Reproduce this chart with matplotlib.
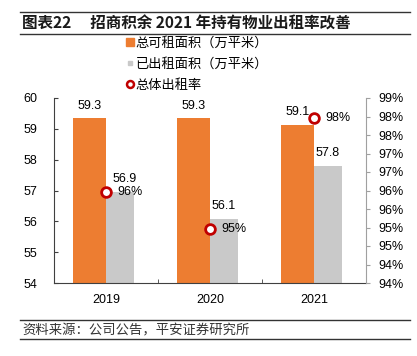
import matplotlib
matplotlib.use("Agg")
import matplotlib.pyplot as plt
from matplotlib.lines import Line2D
import numpy as np

plt.rcParams['font.family'] = ['Liberation Sans', 'Noto Sans CJK SC', 'DejaVu Sans']

# ---- data ----
years = ["2019", "2020", "2021"]
total_area = [59.34, 59.34, 59.14]      # 总可租面积（万平米）
rented_area = [56.94, 56.07, 57.80]     # 已出租面积（万平米）
occupancy = [96.47, 95.46, 98.47]       # 总体出租率 (%)
left_ticks = [54, 55, 56, 57, 58, 59, 60]
right_ticks = [94, 94.5, 95, 95.5, 96, 96.5, 97, 97.5, 98, 98.5, 99]
right_tick_labels = ["94%", "94%", "95%", "95%", "96%", "96%", "97%", "97%", "98%", "98%", "99%"]
title = "图表22\u3000 招商积余 2021 年持有物业出租率改善"
source = "资料来源：公司公告，平安证券研究所"
legend_labels = ["总可租面积（万平米）", "已出租面积（万平米）", "总体出租率"]

ORANGE = "#ED7D31"
GRAY = "#C9C9C9"
RED = "#C00000"
W, H = 417, 356

fig = plt.figure(figsize=(W / 100, H / 100), dpi=100)

def fx(px):
    return px / W

def fy(py):
    return 1 - py / H

ax = fig.add_axes([fx(54), fy(283), fx(366) - fx(54), fy(98) - fy(283)])
ax2 = ax.twinx()

x = np.arange(len(years))
w1, w2 = 0.315, 0.27
b1 = ax.bar(x - w1 / 2, total_area, width=w1, color=ORANGE, zorder=2)
b2 = ax.bar(x + w2 / 2, rented_area, width=w2, color=GRAY, zorder=2)

ax.set_ylim(54, 60)
ax.set_xlim(-0.5, 2.5)
ax.set_yticks(left_ticks)
ax.set_xticks(x)
ax.set_xticklabels(years)
ax.set_xticks([0.5, 1.5], minor=True)
ax.tick_params(axis='x', which='major', length=0, pad=8, labelsize=9, colors='black')
ax.tick_params(axis='x', which='minor', direction='in', length=3, color='#404040')
ax.tick_params(axis='y', direction='in', length=3, pad=12, labelsize=9, color='#404040')
for s in ['top', 'right']:
    ax.spines[s].set_visible(False)
ax.spines['left'].set_color('#404040')
ax.spines['bottom'].set_color('#404040')

for xi, v in zip(x - w1 / 2, total_area):
    ax.annotate(f"{v:.1f}", (xi, v), xytext=(0, 9), textcoords='offset points',
                ha='center', va='center', fontsize=9)
for i, (xi, v) in enumerate(zip(x + w2 / 2, rented_area)):
    dx = 3 if i == 0 else 0
    ax.annotate(f"{v:.1f}", (xi, v), xytext=(dx, 9.5), textcoords='offset points',
                ha='center', va='center', fontsize=9)

ax2.set_ylim(94, 99)
ax2.set_yticks(right_ticks)
ax2.set_yticklabels(right_tick_labels)
ax2.tick_params(axis='y', direction='out', length=3, pad=6, labelsize=9, color='#A0A0A0')
for s in ['top', 'left', 'bottom']:
    ax2.spines[s].set_visible(False)
ax2.spines['right'].set_color('#A0A0A0')
ax2.plot(x, occupancy, linestyle='none', marker='o', markersize=7,
         markerfacecolor='white', markeredgecolor=RED, markeredgewidth=2, zorder=5)
for xi, v in zip(x, occupancy):
    ax2.annotate(f"{v:.0f}%", (xi, v), xytext=(8, 0), textcoords='offset points',
                 ha='left', va='center', fontsize=9)

# legend
handles = [
    Line2D([], [], linestyle='none', marker='s', markersize=5.5, color=ORANGE),
    Line2D([], [], linestyle='none', marker='s', markersize=3.5, color=GRAY),
    Line2D([], [], linestyle='none', marker='o', markersize=5, markerfacecolor='white',
           markeredgecolor=RED, markeredgewidth=1.8),
]
fig.legend(handles, legend_labels, loc='upper left', bbox_to_anchor=(fx(126), fy(37)),
           frameon=False, prop={'family': ['Noto Sans CJK SC'], 'size': 9.5},
           handlelength=0.6, handletextpad=0.15, labelspacing=0.6,
           borderpad=0, borderaxespad=0)

# title and rules
fig.text(fx(22), fy(24), title, ha='left', va='center', fontsize=11.2, fontweight='bold',
         family=['Noto Sans CJK SC', 'DejaVu Sans'], color='#1a1a1a')
for py in [12, 34, 320, 339]:
    fig.add_artist(Line2D([fx(20), fx(410)], [fy(py), fy(py)], color='#333333', linewidth=1.0))
fig.text(fx(22), fy(330), source, ha='left', va='center', fontsize=9.6,
         family=['Noto Sans CJK SC', 'DejaVu Sans'], style='italic', color='#333333')

fig.savefig("out.png", dpi=100)
